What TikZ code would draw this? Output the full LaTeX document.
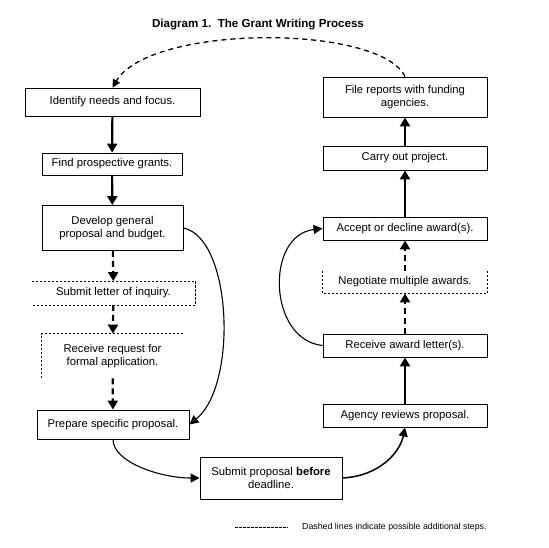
\documentclass[tikz,border=0pt]{standalone}
\usepackage{fontspec}
\setmainfont{Liberation Sans}
\usetikzlibrary{arrows.meta}
\tikzstyle{stepbox}=[draw,line width=0.9pt,inner sep=0pt,align=center,font=\fontsize{11.3}{13.5}\selectfont]
\tikzstyle{optbox}=[stepbox,draw=none]
\tikzstyle{optedge}=[line width=0.8pt,dash pattern=on 2.5pt off 1.5pt]
\tikzstyle{flow}=[-{Triangle[length=9pt,width=10pt]},line width=2.2pt]
\tikzstyle{optflow}=[flow,dash pattern=on 6pt off 4pt]
\tikzstyle{loopflow}=[-{Triangle[length=9pt,width=9pt]},line width=1.1pt]
\tikzstyle{backflow}=[-{Triangle[length=8pt,width=8pt]},line width=1.3pt,dash pattern=on 5pt off 4pt]
\begin{document}
\begin{tikzpicture}[x=1pt,y=-1pt]
  \useasboundingbox (0,0) rectangle (549,547);
  \node[font=\bfseries\fontsize{11.6}{14}\selectfont] (title) at (258,25) {Diagram 1.\ \ The Grant Writing Process};
  % left column
  \node[stepbox,minimum width=175,minimum height=28] (identify) at (112.5,102) {Identify needs and focus.};
  \node[stepbox,minimum width=140,minimum height=22] (find) at (112,164) {Find prospective grants.};
  \node[stepbox,minimum width=141,minimum height=45] (develop) at (112.5,228) {Develop general\\proposal and budget.};
  \node[optbox,minimum width=163,minimum height=23] (letter) at (113.5,293) {Submit letter of inquiry.};
  \node[optbox,minimum width=141,minimum height=44] (request) at (112.5,356) {Receive request for\\formal application.};
  \node[stepbox,minimum width=152,minimum height=29] (prepare) at (113,424.5) {Prepare specific proposal.};
  \node[stepbox,minimum width=142,minimum height=42] (submit) at (271,478) {Submit proposal \textbf{before}\\deadline.};
  % right column
  \node[stepbox,minimum width=164,minimum height=23] (agency) at (405,415.5) {Agency reviews proposal.};
  \node[stepbox,minimum width=164,minimum height=23] (award) at (405,345.5) {Receive award letter(s).};
  \node[optbox,minimum width=164,minimum height=22] (negotiate) at (405,282) {Negotiate multiple awards.};
  \node[stepbox,minimum width=164,minimum height=23] (accept) at (405,228.5) {Accept or decline award(s).};
  \node[stepbox,minimum width=164,minimum height=24] (carry) at (405,158) {Carry out project.};
  \node[stepbox,minimum width=164,minimum height=40] (file) at (405,97) {File reports with funding\\agencies.};
  % partly drawn dashed boxes
  \draw[optedge] (letter.north west) -- (letter.north east) -- (letter.south east) -- (letter.south west);
  \draw[optedge] (request.north east) -- (request.north west) -- (request.south west);
  \draw[optedge] (negotiate.north west) -- (negotiate.south west) -- (negotiate.south east) -- (negotiate.north east);
  % arrows
  \draw[flow] (identify) -- (find);
  \draw[flow] (find) -- (develop);
  \draw[optflow] (develop) -- (letter);
  \draw[optflow] (letter) -- (request);
  \draw[optflow] (request) -- (prepare);
  \draw[loopflow] (develop.east) .. controls (232,238) and (238,385) .. (prepare.east); %skip
  \draw[loopflow] (prepare.south) .. controls (113,462) and (160,478) .. (submit.west);
  \draw[loopflow,line width=1.5pt] (submit.east) .. controls (380,476) and (400,452) .. (agency.south);
  \draw[flow] (agency) -- (award);
  \draw[optflow] (award) -- (negotiate);
  \draw[optflow] (negotiate) -- (accept);
  \draw[loopflow] (award.west) .. controls (268,340) and (265,235) .. (accept.west); %skip
  \draw[flow] (accept) -- (carry);
  \draw[flow] (carry) -- (file);
  \draw[backflow] (file.north) .. controls (380,24) and (150,24) .. (identify.north); %repeat
  % legend
  \coordinate (keyA) at (235,527);
  \coordinate (keyB) at (288,527);
  \draw[optedge] (keyA) -- (keyB);
  \node[anchor=west,inner sep=0pt,font=\fontsize{8.8}{10}\selectfont] (key) at (302,527) {Dashed lines indicate possible additional steps.};
\end{tikzpicture}
\end{document}
